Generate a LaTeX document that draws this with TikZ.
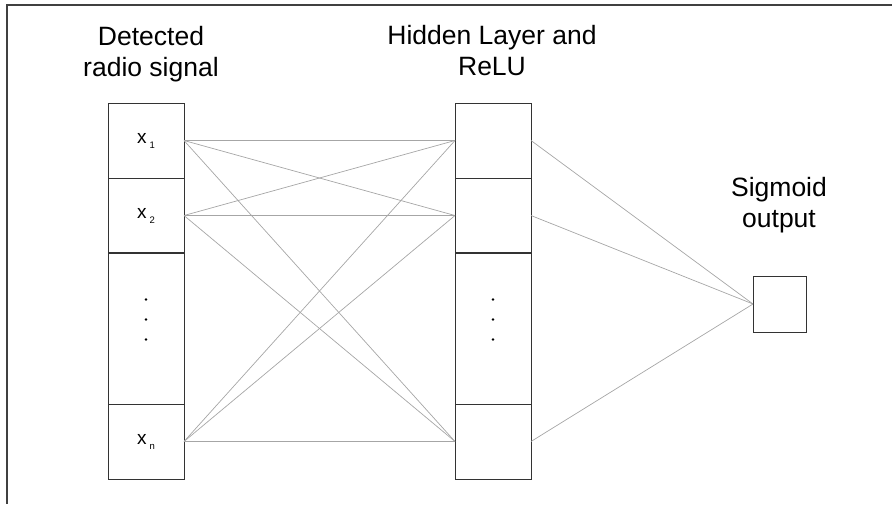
\documentclass[tikz,border=0pt]{standalone}
\usepackage{fontspec}
\setmainfont{Liberation Sans}
\usetikzlibrary{positioning}

\begin{document}
\begin{tikzpicture}[
    x=1pt, y=-1pt,
    cell/.style={draw=black!80, line width=1pt, minimum width=76pt, minimum height=75pt, inner sep=0pt, outer sep=0pt, font=\fontsize{19}{22}\selectfont},
    tallcell/.style={cell, minimum height=151pt},
    link/.style={draw=black!35, line width=0.7pt},
    heading/.style={align=center, inner sep=0pt, anchor=north, font=\fontsize{26.5}{31}\selectfont}
]
    \def\colIn{146} 
    \def\colHid{493} 
    \def\rowTop{140.5} 
    \newcommand{\sub}[1]{\,\raisebox{-5pt}{\fontsize{9.5}{10}\selectfont #1}}
    \useasboundingbox (0,0) rectangle (892,504);
    % frame
    \draw[black!75, line width=2pt] (892,5) -- (7,5) -- (7,504);
    % input column
    \node[cell] (x1) at (\colIn,\rowTop) {x\sub{1}};
    \node[cell, below=0pt of x1] (x2) {x\sub{2}};
    \node[tallcell, below=0pt of x2] (xd) {};
    \node[cell, below=0pt of xd] (xn) {x\sub{n}};
    \draw[black!80, line width=1.8pt] (x2.south west) -- (x2.south east);
    % hidden column
    \node[cell] (h1) at (\colHid,\rowTop) {};
    \node[cell, below=0pt of h1] (h2) {};
    \node[tallcell, below=0pt of h2] (hd) {};
    \node[cell, below=0pt of hd] (hn) {};
    \draw[black!80, line width=1.8pt] (h2.south west) -- (h2.south east);
    \foreach \col in {xd, hd}
        \foreach \dy in {29, 9, -11}
            \fill ([yshift=\dy pt]\col.center) circle (1.4pt);
    % output
    \node[cell, minimum width=53pt, minimum height=56pt] (out) at (779.5,304) {};
    % titles
    \node[heading] (tin) at (151,26) {Detected\\radio signal};
    \node[heading] (thid) at (492,25) {Hidden Layer and\\ReLU};
    \node[heading] (tout) at (779,177) {Sigmoid\\output};
    % connections
    \foreach \a in {x1, x2, xn}
        \foreach \b in {h1, h2, hn}
            \draw[link] (\a.east) -- (\b.west);
    \foreach \b in {h1, h2, hn}
        \draw[link] (\b.east) -- (out.west);
\end{tikzpicture}
\end{document}
